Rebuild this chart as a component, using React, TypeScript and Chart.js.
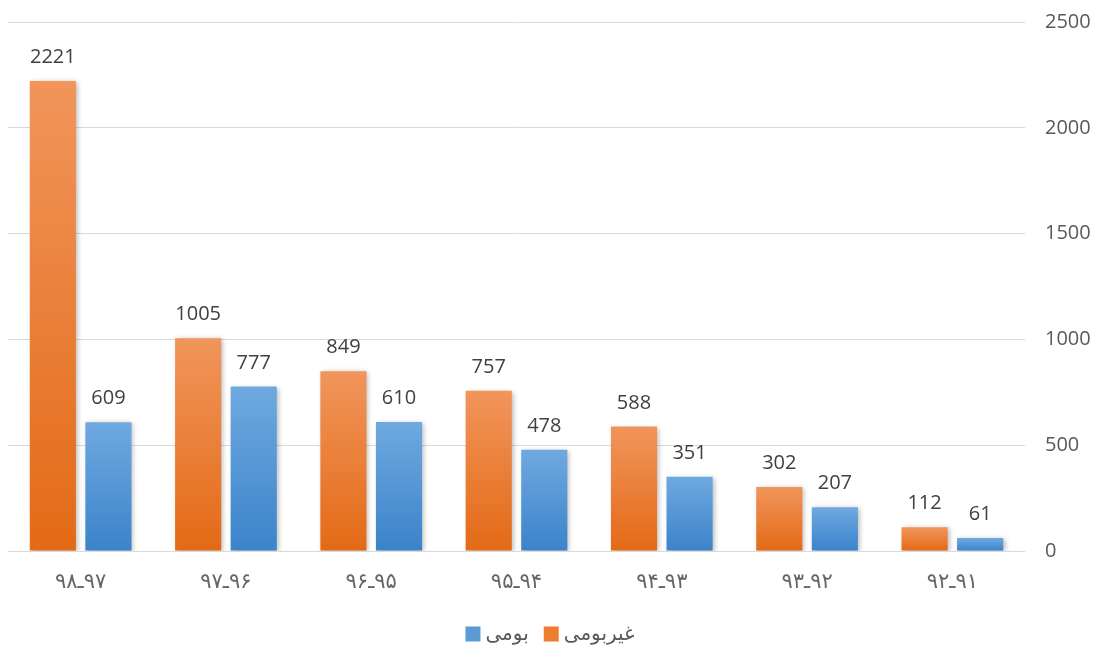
import React, { useEffect, useRef } from "react";
import { Chart, registerables } from "chart.js";

Chart.register(...registerables);

const LRM = "\u200E";
const categories = ["۹۸ـ۹۷", "۹۷ـ۹۶", "۹۶ـ۹۵", "۹۵ـ۹۴", "۹۴ـ۹۳", "۹۳ـ۹۲", "۹۲ـ۹۱"];
const nonNativeLabel = "غیربومی";
const nativeLabel = "بومی";
const nonNative = [2221, 1005, 849, 757, 588, 302, 112];
const native = [609, 777, 610, 478, 351, 207, 61];
const yMax = 2500;
const yStep = 500;

const FONT = "'Open Sans', 'DejaVu Sans', sans-serif";
const ORANGE = "#ED7D31";
const BLUE = "#5B9BD5";

function gradientFor(top: string, bottom: string, solid: string) {
  return (ctx: any) => {
    const chart = ctx.chart;
    if (!chart.chartArea || ctx.raw === undefined || ctx.raw === null) return solid;
    const y = chart.scales.y;
    const t = y.getPixelForValue(ctx.raw);
    const b = y.getPixelForValue(0);
    if (!isFinite(t) || !isFinite(b) || t === b) return solid;
    const g = chart.ctx.createLinearGradient(0, t, 0, b);
    g.addColorStop(0, top);
    g.addColorStop(1, bottom);
    return g;
  };
}

const valueLabels = {
  id: "valueLabels",
  afterDatasetsDraw(chart: any) {
    const ctx = chart.ctx;
    ctx.save();
    ctx.font = `20px ${FONT}`;
    ctx.fillStyle = "#404040";
    ctx.textAlign = "center";
    ctx.textBaseline = "alphabetic";
    chart.data.datasets.forEach((ds: any, i: number) => {
      const meta = chart.getDatasetMeta(i);
      meta.data.forEach((el: any, j: number) => {
        ctx.fillText(String(ds.data[j]), el.x, el.y - 18);
      });
    });
    ctx.restore();
  },
};

const barShadow = {
  id: "barShadow",
  beforeDatasetDraw(chart: any) {
    const ctx = chart.ctx;
    ctx.save();
    ctx.shadowColor = "rgba(0,0,0,0.28)";
    ctx.shadowBlur = 5;
    ctx.shadowOffsetX = 2;
    ctx.shadowOffsetY = 1;
  },
  afterDatasetDraw(chart: any) {
    chart.ctx.restore();
  },
};

const bottomLegend = {
  id: "bottomLegend",
  afterDraw(chart: any) {
    const ctx = chart.ctx;
    const items = chart.data.datasets
      .map((ds: any) => ({ label: ds.label, color: ds.legendColor }))
      .reverse();
    ctx.save();
    ctx.font = `20px ${FONT}`;
    ctx.textBaseline = "middle";
    ctx.textAlign = "left";
    const box = 15;
    const gap = 5;
    const itemGap = 15;
    const widths = items.map((it: any) => ctx.measureText(it.label).width);
    let total = 0;
    items.forEach((_: any, i: number) => {
      total += box + gap + widths[i] + (i < items.length - 1 ? itemGap : 0);
    });
    let x = 550 - total / 2;
    const cy = 634;
    items.forEach((it: any, i: number) => {
      ctx.fillStyle = it.color;
      ctx.fillRect(x, cy - box / 2, box, box);
      x += box + gap;
      ctx.fillStyle = "#595959";
      ctx.fillText(it.label, x, cy);
      x += widths[i] + itemGap;
    });
    ctx.restore();
  },
};

export default function App() {
  const ref = useRef<HTMLCanvasElement>(null);
  useEffect(() => {
    document.body.style.margin = "0";
    const chart = new Chart(ref.current!, {
      type: "bar",
      data: {
        labels: categories.map((c) => c.replace("ـ", LRM + "ـ" + LRM)),
        datasets: [
          {
            label: nonNativeLabel,
            data: nonNative,
            backgroundColor: gradientFor("#F1955B", "#E36A16", ORANGE),
            legendColor: ORANGE,
            borderWidth: 0,
            categoryPercentage: 0.765,
            barPercentage: 0.83,
          } as any,
          {
            label: nativeLabel,
            data: native,
            backgroundColor: gradientFor("#6FA9E0", "#3B83CA", BLUE),
            legendColor: BLUE,
            borderWidth: 0,
            categoryPercentage: 0.765,
            barPercentage: 0.83,
          } as any,
        ],
      },
      options: {
        responsive: false,
        animation: false,
        layout: { padding: { left: 8, top: 0, right: 0, bottom: 0 } },
        plugins: {
          legend: { display: false },
          tooltip: { enabled: false },
        },
        scales: {
          x: {
            grid: { display: false },
            border: { display: false },
            ticks: {
              color: "#666666",
              padding: 10,
              font: { family: FONT, size: 21 },
            },
            afterFit(axis: any) {
              axis.height = 94;
            },
          },
          y: {
            position: "right",
            min: 0,
            max: yMax,
            grid: {
              color: "#D9D9D9",
              lineWidth: 1,
              drawTicks: true,
              tickLength: 10,
              tickColor: "rgba(0,0,0,0)",
            },
            border: { display: false },
            ticks: {
              stepSize: yStep,
              color: "#595959",
              padding: 10,
              font: { family: FONT, size: 20 },
              callback: (v: any) => String(v),
            },
            afterFit(axis: any) {
              axis.width = 72;
            },
          },
        },
      },
      plugins: [barShadow, valueLabels, bottomLegend],
    });
    return () => chart.destroy();
  }, []);
  return <canvas ref={ref} width={1097} height={645} style={{ display: "block" }} />;
}
